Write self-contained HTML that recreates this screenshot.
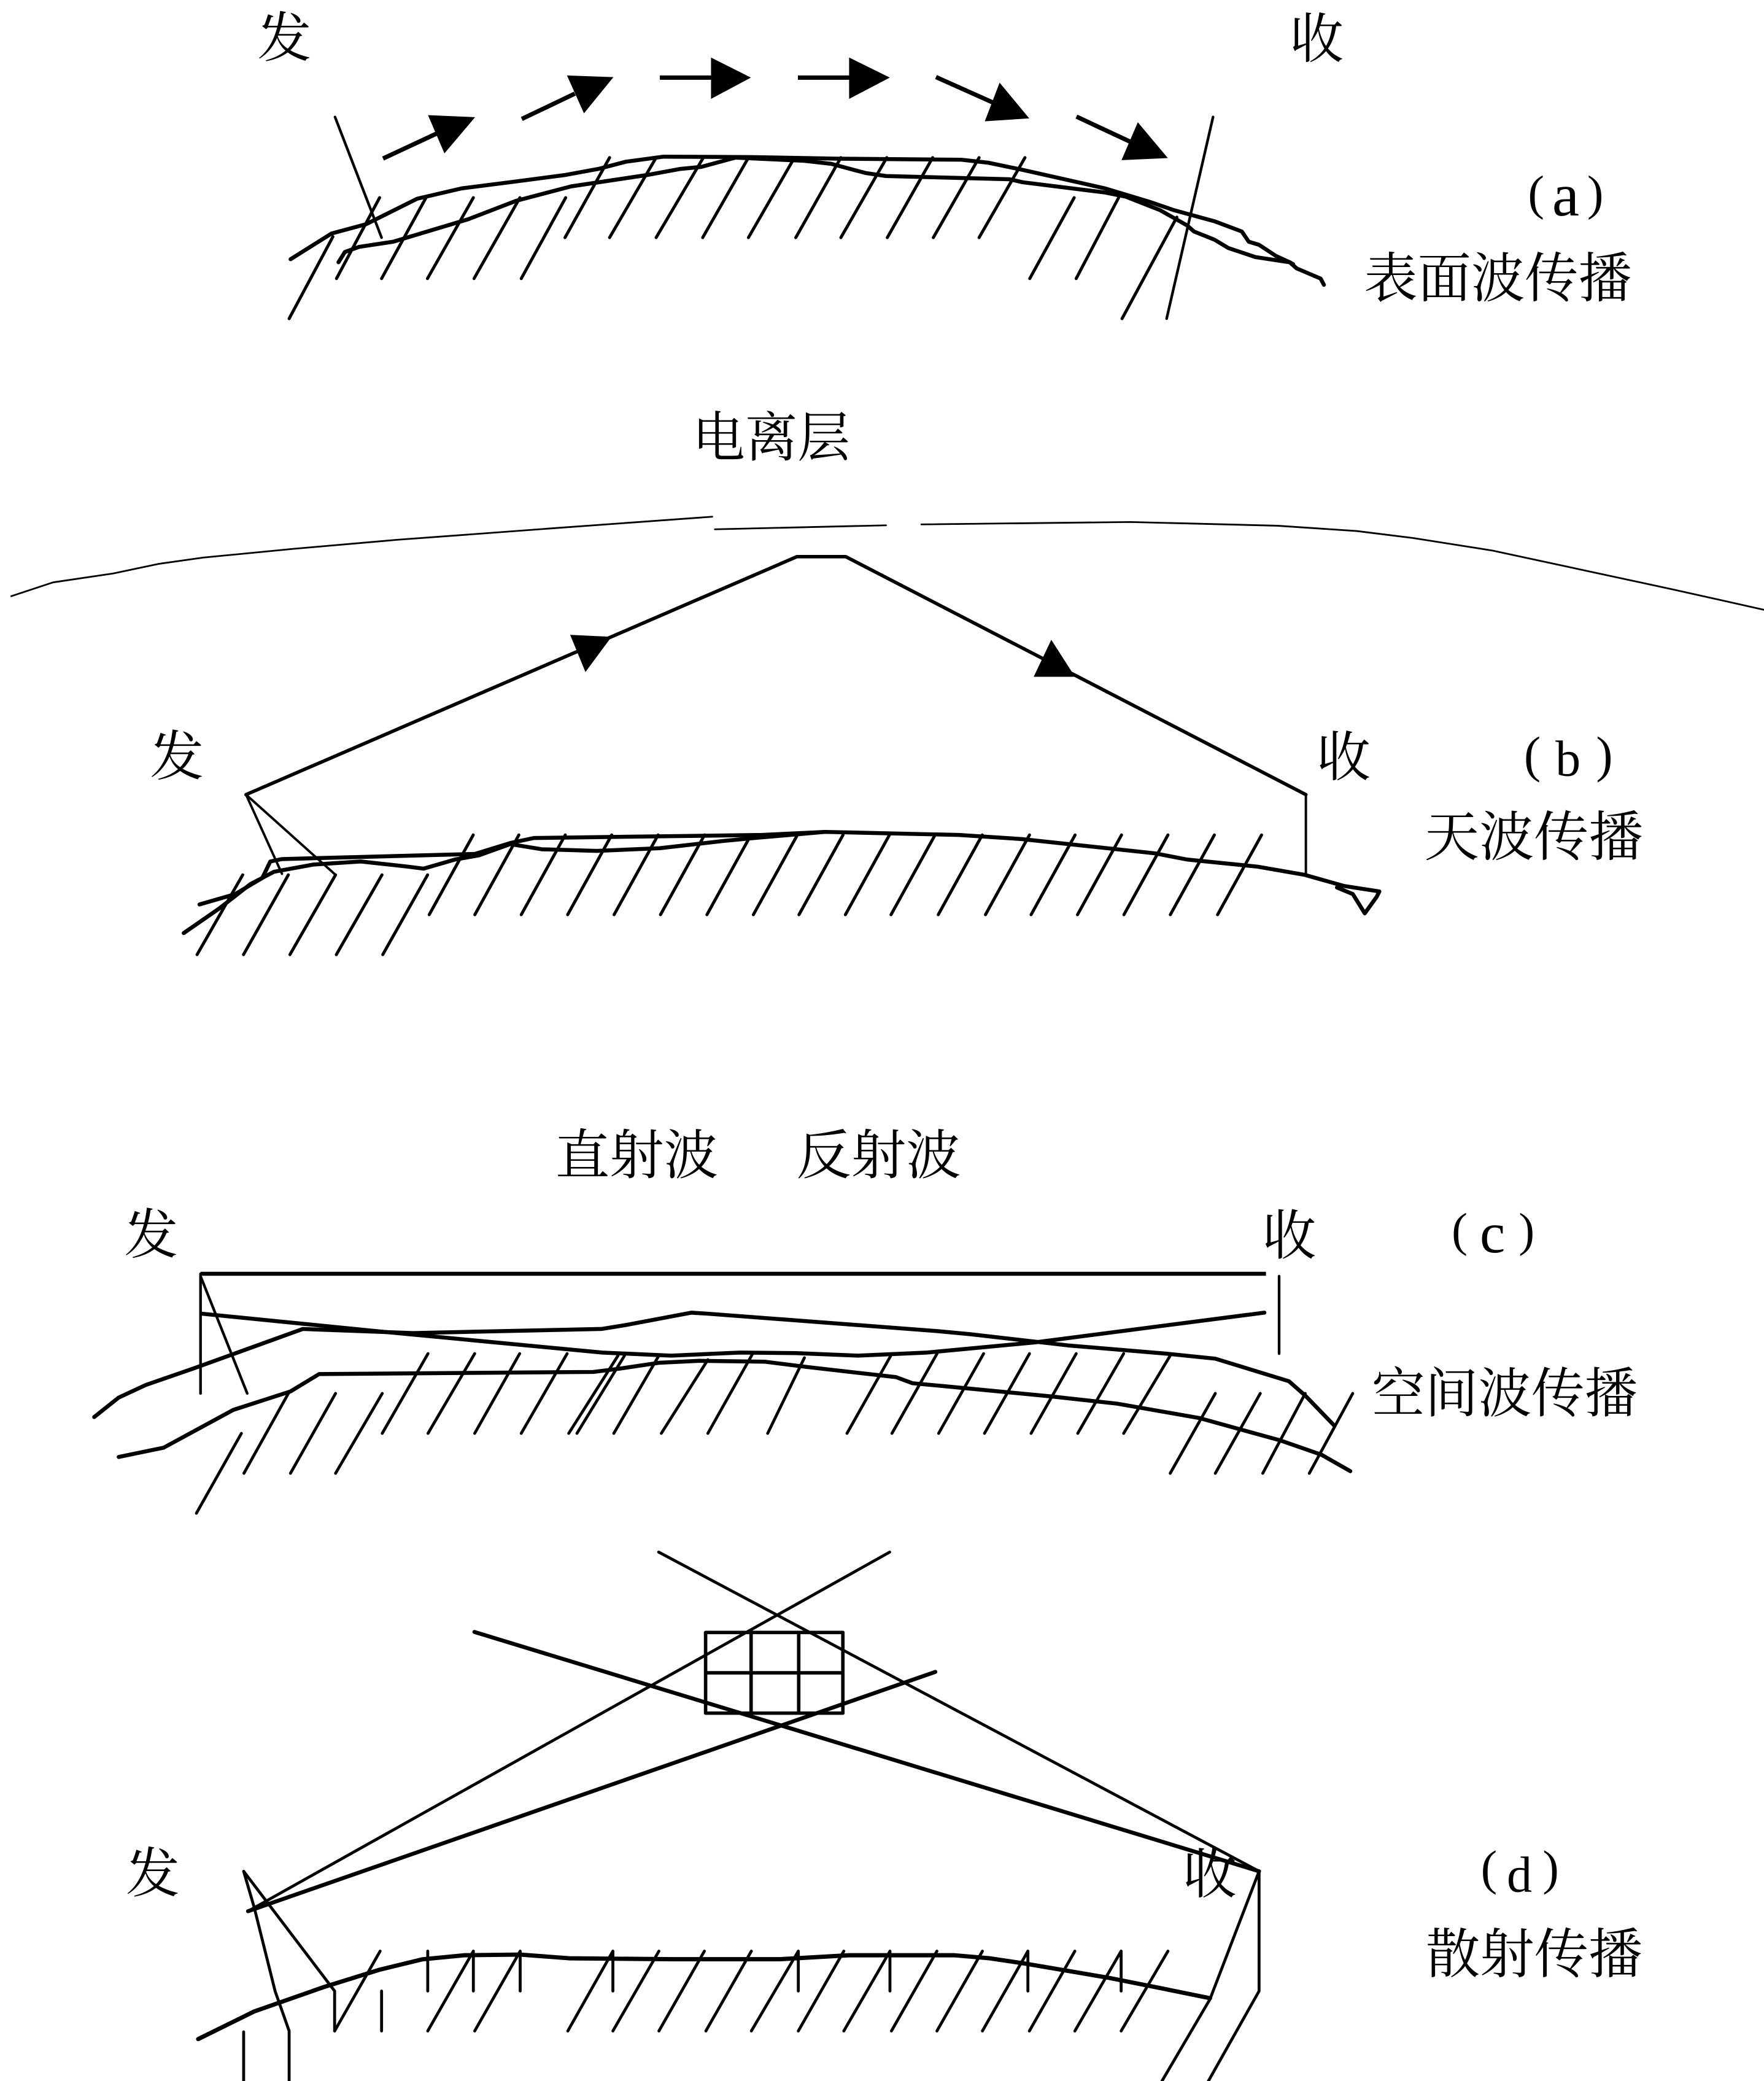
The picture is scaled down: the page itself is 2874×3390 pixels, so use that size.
<!DOCTYPE html>
<html><head><meta charset="utf-8"><style>
html,body{margin:0;padding:0;background:#fff;}
svg{display:block;}
.cjk{font-family:"Liberation Serif","Noto Serif CJK SC","Noto Sans CJK SC",serif;font-size:40.7px;fill:#000;}
.lat{font-family:"Liberation Serif",serif;fill:#000;}
</style></head><body>
<svg xmlns="http://www.w3.org/2000/svg" width="2874" height="3390" viewBox="0 0 1330 1568.7" preserveAspectRatio="none">
<rect x="0" y="0" width="1330" height="1568.7" fill="#fff"/>
<g fill="none" stroke="#000" stroke-linejoin="round" stroke-linecap="round">

<!-- ===== (a) ===== -->
<path stroke-width="2.3" d="M286.2,149 L253.7,210 M321.2,149 L287.7,210 M356.9,149 L322.3,210 M392,149 L357.4,210 M426.5,149 L393,210
M459.6,118.8 L426,179.1 M494.7,118.8 L459.6,179.1 M530.3,118.8 L494.7,179.1 M564.3,118.8 L529.8,179.1 M599,118.8 L564.3,179.1 M634,118.8 L600,179.1 M668.6,118.8 L634,179.1 M703.2,118.8 L669,179.1 M738.2,118.8 L703.7,179.1 M772.8,118.8 L738.2,179.1
M809.9,149 L776.4,210 M843.4,149 L811.4,210
M251,178.4 L218,240.2 M887.3,163.7 L846,240.2"/>
<path stroke-width="2" d="M252.6,88.2 L287.7,179.1 M914.6,88.2 L879.6,240.2"/>
<polyline stroke-width="3" points="219.1,195.4 250.0,176.0 275.8,169.1 314.5,149.8 348.1,142.0 384.2,137.4 425.5,132.0 451.3,127.3 471.9,121.9 500.3,118.1 564.8,118.4 631.9,119.6 724.8,120.4 745.4,122.7 771.2,128.1 833.1,142.0 866.7,152.1 884.7,158.3 915.7,166.8 936.3,174.5 941.5,182.2 949.2,184.5 962.1,193.0 972.4,197.7 977.6,202.3 995.7,210.0 998.2,214.7"/>
<polyline stroke-width="3" points="255.2,197.7 260,190 270.7,186.1 296.5,182.2 353.2,165.2 389.4,151.3 430.6,140.5 487.4,132.0 513.2,127.3 528.7,125.8 554.5,118.8 606.1,121.2 626.7,123.5 652.5,130.4 668,132.7 699,133.5 760.9,135.1 771.2,137.4 833.1,145.1 848.6,148.2 874.4,158.3 895,169.9 900.2,174.5 915.7,180.7 926,186.9 946.6,193.8 972.4,197.7 975,199.2"/>
<!-- arrow shafts -->
<path stroke-width="3.3" stroke-linecap="butt" d="M288.8,119.5 L330,100.3 M393.4,89.7 L433.4,70.6 M497.5,58.5 L537.5,58.5 M601.6,58.5 L641.7,58.5 M705.7,58.1 L748.5,77.2 M811.6,87.9 L852.9,107.2"/>

<!-- ===== (b) ===== -->
<polyline stroke-width="1.3" points="8.5,449.4 40,439 85.2,432.3 120,425 153.4,420.3 221.6,413.7 298.3,407 420,398 537,389.5"/>
<polyline stroke-width="1.3" points="539,399 668,396"/>
<polyline stroke-width="1.3" points="694.7,395.3 852.4,393.5 963.2,396.3 1022.9,400.3 1065.5,405.6 1125.2,415 1193.4,429.7 1261.6,444.4 1329.7,459.6"/>
<polyline stroke-width="2.6" points="185.5,599 600.9,419.6 637.6,419.6 984.6,599"/>
<path stroke-width="1.8" d="M185.5,599 L212.6,658.7 M185.5,599 L253,659.5 M984.6,599 L984.6,659"/>
<path stroke-width="2.3" d="M356.8,629.4 L323.6,689.5 M391.2,629.4 L358,689.5 M426.2,629.4 L393,689.5 M461.2,629.4 L428,689.5 M496.2,629.4 L463,689.5 M531.2,629.4 L498,689.5 M566.2,629.4 L533,689.5 M601.2,629.4 L568,689.5 M635.6,629.4 L602.4,689.5 M670.6,629.4 L637.4,689.5 M705,629.4 L671.8,689.5 M740.6,629.4 L707.4,689.5 M776.2,629.4 L743,689.5 M810.6,629.4 L777.4,689.5 M845.6,629.4 L812.4,689.5 M880.6,629.4 L847.4,689.5 M915.6,629.4 L882.4,689.5 M951.2,629.4 L918,689.5
M183,659.5 L148.6,719.6 M217.4,659.5 L183.6,719.6 M253,659.5 L218.6,719.6 M288,659.5 L253.6,719.6 M322.4,659.5 L288.6,719.6"/>
<polyline stroke-width="3" points="150.4,681.8 177.1,674.1 197.8,661.8 203.8,649.4 212.6,647.6 358,643.7 384.7,635.5 402.5,631.7 574.5,629.4 622,627.1 722.8,629.4 770.3,632.5 871.1,643.3 894.8,647.9 948.2,653.3 983.8,659.5 1013.5,667.9 1040,672 1038,676 1029,688.5 1020,674 1008,669"/>
<polyline stroke-width="3" points="138.5,703.4 165.2,684.9 188.9,666.4 206.7,657.1 236.4,651.7 272,649.4 307.6,653.3 319.4,654.8 343.2,647.9 361,644.8 384.7,636.3 408.4,640.2 449.9,641.4 497.4,639.4 544.8,634 568.6,631.7 622,627.1"/>

<!-- ===== (c) ===== -->
<path stroke-width="3" stroke-linecap="butt" d="M151.2,960.2 L954.5,960.2"/>
<path stroke-width="2" d="M151.2,960.2 L151.2,1050.4 M151.2,962 L186.4,1050.4 M964.4,962 L964.4,1020.4"/>
<polyline stroke-width="3" points="152.3,990.3 283.5,1003.4 454.1,1019.6 506,1021.9 557.9,1019.6 600,1020 646.9,1021.9 698.8,1019.6 780.4,1011.9 953.3,989.5"/>
<polyline stroke-width="3" points="71,1068.2 89.5,1053.5 110,1044 145,1031.9 228.3,1001.8 311.6,1004.9 453.5,1001.8 472,998.8 521.4,989.5 533.7,990.3 706.5,1003.4 731.2,1005.7 805.2,1014.2 879.2,1020.4 916.3,1024.2 971.8,1041.2 984.1,1052 1005.7,1074.3"/>
<polyline stroke-width="3" points="89.5,1098.3 123.4,1091.3 175.9,1062.8 219,1048.9 240.6,1035.8 447.3,1034.2 465.9,1031.9 496.7,1027.3 527.6,1025.8 576.9,1026.5 607.8,1030.4 675.6,1038.1 688,1042.7 712.6,1045 792.9,1052.7 842.2,1058.1 904,1068.9 965.6,1085.9 996.5,1096.7 1018.1,1109"/>
<path stroke-width="2.2" d="M322.7,1020.4 L288.2,1080.5 M357.9,1020.4 L322.7,1080.5 M391.8,1020.4 L357.9,1080.5 M427.6,1020.4 L393,1080.5 M465.9,1022 L428.8,1080.5 M470.8,1022 L435,1080.5 M496.7,1022 L462.8,1080.5 M533.7,1025 L498.6,1080.5 M567.7,1020 L533.7,1080.5 M606.5,1023.5 L578.8,1080.5 M672.5,1020.4 L638.6,1080.5 M706.5,1020.4 L672.5,1080.5 M741.6,1020.4 L707.7,1080.5 M776.2,1020.4 L742.3,1080.5 M811.4,1020.4 L777.4,1080.5 M847.2,1020.4 L812.6,1080.5 M882.3,1021.9 L847.2,1080.5
M217.8,1049.7 L183.9,1110.6 M253,1050.4 L219,1110.6 M288.2,1050.4 L253,1110.6 M182,1080.5 L148.1,1140.7
M916.3,1050.4 L882.3,1110.6 M950.2,1050.4 L916.3,1110.6 M984.1,1050.4 L952.1,1110.6 M1019.9,1050.4 L987.2,1110.6"/>

<!-- ===== (d) ===== -->
<path stroke-width="2.2" d="M496.6,1170 L949.3,1410.6 M670.8,1170 L187,1440.7"/>
<path stroke-width="3" d="M357.7,1230.2 L949.3,1410.6 M705.2,1260.3 L187,1440.7"/>
<path stroke-width="2.6" stroke-linecap="square" d="M532,1230.6 H635.5 V1291.4 H532 Z M532,1261 H635.5 M566.3,1230.6 V1291.4 M602.2,1230.6 V1291.4"/>
<path stroke-width="2.2" d="M183.7,1410.6 L191.6,1437.6 L207.4,1500.9 L218,1531 L218,1568.7 M183.7,1410.6 L252.3,1500.9 L252.3,1531 M183.7,1531.7 V1568.7
M949.3,1410.6 V1500.9 L911.1,1568.7 M949.3,1410.6 L912.3,1507 L876.1,1568.7"/>
<polyline stroke-width="3.2" points="149.4,1537.1 191.6,1516.3 244.4,1497.8 286.6,1484.7 318.3,1477 350,1473.9 392.2,1473.4 429.2,1476.2 508.4,1476.9 587.6,1476.9 640.4,1473.9 719.6,1473.9 746,1476.2 772.4,1480.1 835.8,1490.9 878,1499.3 912.3,1506.3"/>
<path stroke-width="2.2" d="M286.6,1470.8 L252.3,1531 M356.9,1470.8 L322.5,1531 M392.2,1470.8 L357.9,1531 M462.1,1470.8 L428.1,1531 M496.8,1470.8 L462.1,1531 M531.1,1470.8 L496.8,1531 M566.5,1470.8 L532.2,1531 M601.9,1470.8 L566.5,1531 M636.2,1470.8 L601.9,1531 M671,1470.8 L636.2,1531 M706.4,1470.8 L672.1,1531 M740.7,1470.8 L706.4,1531 M775,1470.8 L740.7,1531 M810.4,1470.8 L776.1,1531 M845.3,1470.8 L810.4,1531 M880.6,1470.8 L845.3,1531
M322.5,1470.8 V1500.9 M356.9,1470.8 V1500.9 M392.2,1470.8 V1500.9 M462.1,1470.8 V1500.9 M601.9,1470.8 V1500.9 M671,1470.8 V1500.9 M775,1470.8 V1500.9 M845.3,1470.8 V1500.9 M287.7,1500.9 V1531"/>
</g>

<!-- arrowheads -->
<g fill="#000" stroke="#000" stroke-width="0.8" stroke-linejoin="miter">
<polygon points="323.3,87.2 357.4,88.7 335.2,114.9"/>
<polygon points="428.1,57.3 461.7,58.5 440.4,84.7"/>
<polygon points="536.5,44 565.3,58.5 536.5,73.9"/>
<polygon points="640.6,44 670,58.5 640.6,73.9"/>
<polygon points="753.8,63.1 775.2,88.9 743.1,91"/>
<polygon points="858,92.9 879.7,118.8 846.2,120.3"/>
<polygon points="430.5,479 460.3,480.4 441.5,505.8"/>
<polygon points="792.7,483.1 780,509.8 809.8,509.8"/>
</g>

<!-- ===== labels ===== -->
<g class="cjk">
<text x="214.5" y="42.9" text-anchor="middle">发</text>
<text x="992.7" y="43.6" text-anchor="middle">收</text>
<text x="1028.4" y="223.9" textLength="202" lengthAdjust="spacingAndGlyphs">表面波传播</text>
<text x="522" y="344" textLength="119" lengthAdjust="spacingAndGlyphs">电离层</text>
<text x="133.4" y="584.4" text-anchor="middle">发</text>
<text x="1013" y="584.9" text-anchor="middle">收</text>
<text x="1074" y="645" textLength="165" lengthAdjust="spacingAndGlyphs">天波传播</text>
<text x="418.7" y="884.9" textLength="122.7" lengthAdjust="spacingAndGlyphs">直射波</text>
<text x="600.4" y="884.9" textLength="124" lengthAdjust="spacingAndGlyphs">反射波</text>
<text x="114" y="945" text-anchor="middle">发</text>
<text x="972" y="945.7" text-anchor="middle">收</text>
<text x="1034.3" y="1064.5" textLength="200.5" lengthAdjust="spacingAndGlyphs">空间波传播</text>
<text x="115.2" y="1426.3" text-anchor="middle">发</text>
<text x="912" y="1427" text-anchor="middle">收</text>
<text x="1075" y="1487.2" textLength="163.5" lengthAdjust="spacingAndGlyphs">散射传播</text>
</g>
<g class="lat">
<text x="1152" y="157.8" font-size="37">(</text>
<text x="1180.5" y="162.5" font-size="46" text-anchor="middle">a</text>
<text x="1209" y="157.8" font-size="37" text-anchor="end">)</text>

<text x="1149" y="581.7" font-size="38">(</text>
<text x="1182.2" y="584.6" font-size="38" text-anchor="middle">b</text>
<text x="1216" y="581.7" font-size="38" text-anchor="end">)</text>

<text x="1094.5" y="939.1" font-size="36">(</text>
<text x="1125.3" y="944" font-size="43" text-anchor="middle">c</text>
<text x="1157" y="939.1" font-size="36" text-anchor="end">)</text>

<text x="1116.5" y="1420.3" font-size="37">(</text>
<text x="1145.6" y="1426" font-size="38" text-anchor="middle">d</text>
<text x="1175.4" y="1420.3" font-size="37" text-anchor="end">)</text>
</g>
</svg>
</body></html>
